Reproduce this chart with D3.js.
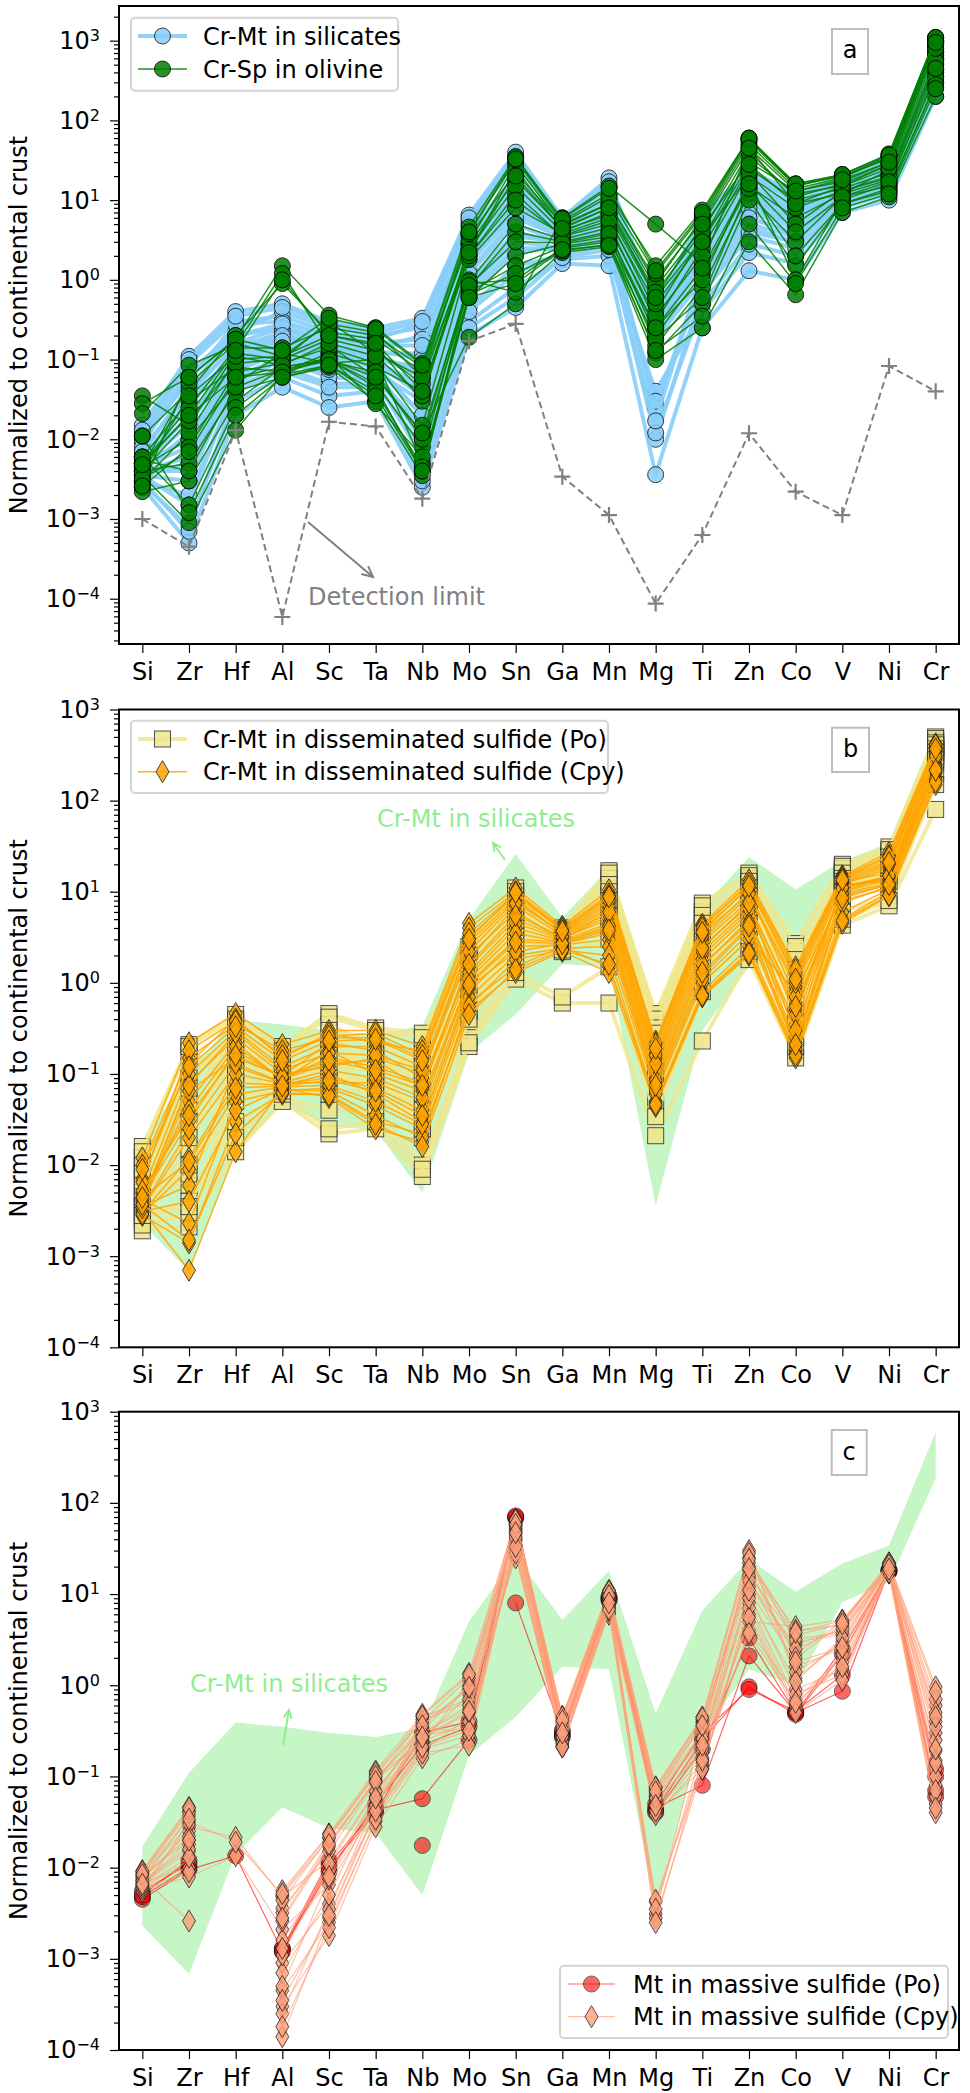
<!DOCTYPE html>
<html>
<head>
<meta charset="utf-8">
<script src="https://cdn.jsdelivr.net/npm/d3@7"></script>
<style>
  body { margin: 0; background: #fff; }
  svg { display: block; }
  text { font-family: "DejaVu Sans", sans-serif; }
</style>
</head>
<body>
<svg id="chart" width="970" height="2093"></svg>
<script>
// ---- element order along the x axis ----
const elements = ["Si","Zr","Hf","Al","Sc","Ta","Nb","Mo","Sn","Ga","Mn","Mg","Ti","Zn","Co","V","Ni","Cr"];
const majorTicks = [1e-4, 1e-3, 1e-2, 1e-1, 1e0, 1e1, 1e2, 1e3];
const majorExponents = ["\u22124","\u22123","\u22122","\u22121","0","1","2","3"];

// LA-ICP-MS detection limit, normalized to continental crust
const detectionLimit = [0.001,0.00045,0.013,0.000059,0.0166,0.0145,0.0018,0.17,0.28,0.0034,0.00112,0.000087,0.00063,0.0119,0.0022,0.00112,0.083,0.04];

// Range (max / min) of Cr-Mt in silicates, used as the background band in b and c
const silicateHigh = [0.017,0.11,0.39,0.35,0.30,0.27,0.34,5.0,26,5.2,18,0.49,6.6,24,10.6,21.7,34,600];
const silicateLow  = [0.0023,0.00068,0.014,0.046,0.027,0.024,0.005,0.17,0.45,1.6,1.5,0.0036,0.3,1.5,1.0,8.2,13.6,186];

// (a) Cr-Mt in silicates
const crMtSilicates = [
  [0.012,0.09,0.3,0.35,0.22,0.18,0.28,5.5,30,5.0,15,0.35,5.0,20,10,17,30,900],
  [0.009,0.06,0.2,0.25,0.18,0.14,0.2,4.0,20,4.5,11,0.3,4.0,15,8,15,26,750],
  [0.007,0.04,0.15,0.2,0.14,0.12,0.12,3.0,14,4.0,9,0.28,3.2,12,7,14,24,650],
  [0.006,0.03,0.12,0.18,0.12,0.1,0.08,2.2,10,3.6,7,0.25,2.6,10,6,13,22,600],
  [0.005,0.02,0.1,0.15,0.1,0.09,0.05,1.6,7,3.2,6,0.22,2.0,8,5,12,20,520],
  [0.004,0.012,0.08,0.12,0.08,0.07,0.03,1.0,4,2.8,4.5,0.2,1.5,6,4,11,18,450],
  [0.0035,0.005,0.06,0.1,0.07,0.06,0.015,0.7,2.5,2.4,3.5,0.18,1.0,4.5,3,10,16,400],
  [0.003,0.002,0.045,0.08,0.05,0.05,0.008,0.45,1.5,2.0,2.8,0.01,0.7,3.5,2.5,9,14,330],
  [0.0028,0.0008,0.03,0.06,0.035,0.04,0.004,0.3,0.8,1.8,2.0,0.04,0.4,2.2,1.6,8,12,260],
  [0.0025,0.0005,0.02,0.045,0.025,0.03,0.0025,0.2,0.45,1.6,1.5,0.0036,0.25,1.3,1.0,7,10,200],
  [0.015,0.11,0.4,0.5,0.3,0.25,0.33,6.5,40,6.0,19,0.45,6.5,24,12,20,35,1000],
  [0.011,0.07,0.22,0.4,0.25,0.2,0.25,5.0,28,5.5,14,0.4,5.5,19,10,18,32,950],
  [0.01,0.055,0.28,0.3,0.2,0.16,0.18,3.5,18,5.0,12,0.32,4.5,16,9,16,28,800],
  [0.008,0.035,0.16,0.25,0.16,0.13,0.1,2.8,12,4.2,10,0.3,3.8,13,7.5,15,25,700],
  [0.006,0.025,0.14,0.22,0.15,0.11,0.07,2.0,9,3.8,8,0.26,3.0,11,6.5,14,23,620],
  [0.005,0.015,0.11,0.19,0.13,0.1,0.04,1.3,6,3.4,6.5,0.23,2.3,9,5.5,13,21,560],
  [0.0045,0.008,0.09,0.16,0.11,0.085,0.02,0.9,3.5,3.0,5,0.2,1.7,7,4.5,12,19,480],
  [0.004,0.004,0.07,0.13,0.09,0.07,0.012,0.6,2.2,2.6,4,0.025,1.2,5,3.5,11,17,420],
  [0.0035,0.0015,0.05,0.1,0.06,0.055,0.006,0.4,1.2,2.2,3.2,0.03,0.8,4,3.0,10,15,360],
  [0.003,0.0007,0.04,0.07,0.045,0.045,0.003,0.25,0.6,1.9,2.4,0.012,0.5,2.8,2.0,9,13,300],
  [0.013,0.1,0.35,0.45,0.28,0.22,0.3,6.0,35,5.8,17,0.42,6.0,22,11,19,33,980],
  [0.007,0.045,0.2,0.28,0.2,0.15,0.15,3.8,16,4.6,10,0.3,4.2,14,8,16,27,720],
  [0.006,0.018,0.13,0.2,0.14,0.11,0.06,2.5,11,3.9,8.5,0.27,3.4,12,7,14,24,660],
  [0.005,0.01,0.1,0.17,0.12,0.09,0.035,1.8,8,3.3,7,0.24,2.8,10,6,13,21,580],
  [0.004,0.006,0.08,0.14,0.1,0.08,0.02,1.2,5,2.9,5.5,0.2,2.0,8,5,12,19,500],
  [0.0035,0.003,0.06,0.11,0.075,0.065,0.01,0.8,3,2.5,4.2,0.017,1.3,6,3.8,11,17,430]
];

// (a) Cr-Sp in olivine
const crSpOlivine = [
  [0.035,0.015,0.12,0.1,0.3,0.12,0.06,2.2,25,4.2,6.5,0.6,3.2,35,12,15,28,1000],
  [0.028,0.06,0.18,1.5,0.36,0.25,0.09,4.6,35,5.5,12,1.5,7.5,60,15,21,38,1100],
  [0.021,0.085,0.15,1.2,0.15,0.06,0.012,0.19,0.5,6.0,15,5.0,1.6,45,9,12,24,850],
  [0.011,0.04,0.2,0.9,0.22,0.18,0.07,3.5,22,5.0,9,1.0,5.5,50,14,19,35,950],
  [0.006,0.03,0.08,0.07,0.12,0.08,0.04,2.0,12,3.5,5,0.3,2.5,25,10,14,22,700],
  [0.005,0.02,0.06,0.08,0.1,0.05,0.008,0.8,4,3.0,4,0.2,1.2,15,6,12,18,500],
  [0.0045,0.01,0.05,0.12,0.09,0.1,0.005,0.6,2,2.8,3.5,0.15,0.8,12,3,11,15,400],
  [0.004,0.005,0.04,0.06,0.08,0.03,0.0035,0.9,1.0,2.5,3,0.12,0.5,10,1.5,9,13,300],
  [0.0035,0.0009,0.013,0.065,0.11,0.028,0.006,1.0,0.7,2.2,2.6,0.1,0.25,3,0.65,7,11,200],
  [0.003,0.012,0.1,0.11,0.2,0.15,0.03,2.8,18,4.5,8,0.8,4.5,30,13,17,30,1050],
  [0.0025,0.008,0.07,0.09,0.14,0.09,0.015,1.8,8,3.8,6,0.4,3.5,20,8,13,20,600],
  [0.0022,0.003,0.03,0.08,0.1,0.045,0.004,0.7,1.5,2.6,3.2,0.25,1.0,18,1.0,10,16,350],
  [0.005,0.025,0.14,0.14,0.25,0.2,0.08,3.0,28,4.8,9,0.9,6,55,15,20,33,1000],
  [0.004,0.017,0.09,0.1,0.18,0.13,0.05,2.4,15,4.0,7,0.7,4,40,11,16,28,900],
  [0.0055,0.004,0.045,0.075,0.095,0.07,0.01,0.95,5,3.2,4.5,0.35,2,22,5,13,19,550],
  [0.006,0.0015,0.025,0.065,0.085,0.04,0.0045,0.65,1.2,2.3,2.8,0.18,0.6,14,2,9,14,280],
  [0.0045,0.05,0.16,0.11,0.28,0.22,0.06,3.8,32,5.2,11,1.2,6.5,58,16,20,36,1080],
  [0.0038,0.035,0.11,0.085,0.16,0.11,0.035,2.0,10,3.6,5.5,0.5,3,28,9,15,25,800],
  [0.0032,0.007,0.06,0.07,0.1,0.06,0.012,0.85,3,2.9,3.8,0.25,1.4,16,4,11,17,450],
  [0.011,0.0012,0.02,0.06,0.085,0.035,0.004,0.6,0.9,2.4,2.7,0.13,0.35,5,0.9,8,12,250],
  [0.0026,0.06,0.18,0.13,0.33,0.24,0.085,4.0,33,5.8,14,1.3,7,60,16,21,37,1100],
  [0.0048,0.02,0.13,1.0,0.2,0.16,0.04,2.2,20,4.4,8,0.6,5,45,13,18,30,950]
];

// (b) Cr-Mt in disseminated sulfide (Po)
const dissPo = [
  [0.016,0.21,0.45,0.2,0.46,0.32,0.28,2.5,11,4.0,17,0.46,7.5,16,2.7,20,31,500],
  [0.012,0.05,0.3,0.15,0.25,0.1,0.2,1.8,9,3.5,14,0.35,6,12,0.4,17,25,450],
  [0.009,0.12,0.22,0.12,0.35,0.2,0.05,1.4,7,3.2,11,0.3,5,10,1.6,15,22,400],
  [0.007,0.006,0.16,0.1,0.22,0.25,0.1,1.0,5.5,3.0,9,0.25,4,8,1.2,8,20,380],
  [0.005,0.04,0.12,0.09,0.18,0.12,0.15,0.8,4.5,2.8,7,0.2,3,14,0.9,12,12,350],
  [0.004,0.18,0.09,0.08,0.14,0.05,0.03,0.6,3.5,2.6,6,0.16,2.5,6,0.7,11,16,320],
  [0.0035,0.015,0.35,0.07,0.1,0.08,0.035,0.45,3,2.5,5,0.12,2,5,2.2,10,14,300],
  [0.003,0.008,0.05,0.06,0.07,0.18,0.02,0.35,2.5,2.4,4,0.09,1.5,4,0.35,18,28,260],
  [0.0025,0.004,0.03,0.055,0.04,0.04,0.01,0.25,1.8,2.2,3,0.05,1.0,3,0.25,6,9,200],
  [0.0019,0.0021,0.014,0.05,0.022,0.025,0.0075,0.2,1.1,0.6,0.6,0.021,0.23,1.8,0.15,4.3,7,80],
  [0.0022,0.003,0.02,0.06,0.025,0.03,0.009,0.22,1.3,0.7,1.5,0.034,0.8,2.2,0.2,5,8,150],
  [0.014,0.2,0.4,0.18,0.42,0.3,0.25,2.2,10,3.8,16,0.4,7,15,2.5,19,29,480],
  [0.01,0.09,0.28,0.14,0.3,0.22,0.18,2.0,8,3.6,12,0.32,5.5,13,1.8,16,24,430],
  [0.008,0.03,0.2,0.11,0.2,0.15,0.12,1.2,6.5,3.3,10,0.28,4.5,11,1.4,14,21,410],
  [0.006,0.07,0.14,0.1,0.16,0.13,0.09,0.9,5,2.9,8,0.22,3.5,9,1.0,13,18,370],
  [0.0045,0.02,0.11,0.085,0.12,0.11,0.06,0.7,4,2.7,6.5,0.18,2.8,7.5,0.8,12,17,340],
  [0.0035,0.01,0.08,0.075,0.09,0.09,0.04,0.5,3.2,2.5,5.5,0.14,2.2,6,0.6,10,15,310],
  [0.0028,0.0035,0.06,0.065,0.06,0.07,0.025,0.4,2.7,2.3,4.5,0.1,1.7,4.5,0.4,9,13,280]
];

// (b) Cr-Mt in disseminated sulfide (Cpy)
const dissCpy = [
  [0.012,0.22,0.46,0.21,0.3,0.3,0.2,4.5,11,4.2,10.5,0.23,4.4,13.5,1.5,15,27,420],
  [0.004,0.08,0.25,0.1,0.12,0.15,0.1,2.0,6,3.0,6,0.12,2.5,7,0.6,10,15,300],
  [0.0035,0.006,0.12,0.08,0.08,0.08,0.05,1.0,3,2.8,4,0.08,1.5,5,0.35,12,13,250],
  [0.0032,0.0007,0.014,0.07,0.055,0.025,0.018,0.6,1.5,2.5,1.5,0.05,0.8,2.5,0.18,5,10,180],
  [0.01,0.15,0.35,0.18,0.25,0.25,0.15,3.2,9,3.8,8.5,0.2,3.8,11,1.2,14,22,380],
  [0.0028,0.0014,0.03,0.06,0.06,0.03,0.022,0.5,1.3,2.2,1.3,0.044,0.7,2,0.15,4.5,9,150],
  [0.0045,0.03,0.18,0.09,0.15,0.12,0.08,1.5,5,3.1,5,0.1,2,6,0.5,11,14,280],
  [0.005,0.1,0.3,0.12,0.2,0.2,0.12,2.5,8,3.5,7.5,0.15,3,9,0.9,12,18,350],
  [0.003,0.012,0.08,0.075,0.1,0.06,0.03,0.8,2.5,2.6,3,0.07,1.2,4,0.2,8,11,200],
  [0.0038,0.05,0.22,0.085,0.18,0.1,0.065,1.8,7,3.3,6.5,0.14,2.8,8,0.25,13,16,320],
  [0.0042,0.0023,0.05,0.065,0.07,0.045,0.025,0.7,2,2.4,2.5,0.06,1,3,0.8,9,12,220],
  [0.007,0.13,0.4,0.15,0.28,0.22,0.18,4.0,10,4.0,9.5,0.22,4.2,12,1.3,14.5,25,400],
  [0.0033,0.02,0.1,0.078,0.09,0.07,0.04,1.2,4,2.9,4.5,0.09,1.8,5.5,0.22,10,13.5,240],
  [0.0036,0.065,0.15,0.095,0.22,0.18,0.09,2.8,8.5,3.4,7,0.17,3.2,10,0.7,12.5,19,360],
  [0.0031,0.004,0.04,0.068,0.065,0.035,0.02,0.55,1.8,2.3,2,0.048,0.75,2.2,0.17,6,10.5,170],
  [0.0048,0.04,0.2,0.088,0.13,0.14,0.07,1.3,4.5,3.0,5.5,0.11,2.2,6.5,0.45,11.5,14.5,290],
  [0.0029,0.009,0.06,0.072,0.075,0.05,0.028,0.9,2.2,2.7,3.5,0.065,1.1,3.5,0.19,7.5,11.5,210],
  [0.0065,0.18,0.38,0.16,0.26,0.28,0.16,3.5,9.5,3.9,9,0.21,4,12.5,1.4,14,24,410],
  [0.0034,0.025,0.13,0.08,0.11,0.09,0.055,1.1,3.5,2.8,4.2,0.085,1.6,4.5,0.3,9.5,12.5,230],
  [0.004,0.075,0.28,0.11,0.17,0.16,0.11,2.2,7.5,3.6,8,0.16,3.5,9.5,1.0,13,20,340],
  [0.0037,0.0015,0.022,0.062,0.058,0.028,0.016,0.45,1.4,2.3,1.6,0.046,0.72,2.1,0.16,4.8,9.2,160],
  [0.0052,0.035,0.16,0.092,0.14,0.11,0.075,1.6,5.5,3.2,6,0.13,2.4,7.5,0.55,11,15,310],
  [0.0044,0.011,0.07,0.074,0.085,0.065,0.035,0.95,2.8,2.7,3.8,0.075,1.3,4.2,0.21,8.5,12,215],
  [0.009,0.12,0.33,0.14,0.23,0.24,0.14,3.0,9.8,3.7,8.8,0.19,3.6,11.5,1.1,13.5,21,370]
];

// (c) Mt in massive sulfide (Po)
const massPo = [
  [0.0045,0.0095,0.0135,0.0012,0.011,0.043,0.057,0.25,70,0.28,9,0.045,0.08,2.1,0.5,0.86,18,0.07],
  [0.0048,0.010,null,0.0013,0.012,null,0.0175,null,8,0.3,8.5,0.042,0.25,0.96,0.48,2.2,17.5,0.1],
  [0.0055,0.011,null,0.0013,0.009,0.05,0.22,0.35,68,0.32,9.5,0.05,0.3,0.9,0.52,1.3,18.5,0.06],
  [0.005,0.012,null,0.0012,0.01,0.04,0.3,0.4,72,0.27,8.8,0.04,0.2,3.3,0.5,2.5,18,0.12]
];

// (c) Mt in massive sulfide (Cpy)
const massCpy = [
  [0.0093,0.046,null,0.0056,0.0235,0.115,0.48,1.35,66,0.46,11,0.077,0.45,30,1.2,3.0,22,0.96],
  [0.0062,0.028,0.0215,0.0048,0.012,0.07,0.3,0.55,58,0.3,8.5,0.05,0.2,5,4.4,5.2,19,0.19],
  [0.0071,0.037,null,0.0032,0.019,0.09,0.25,0.8,48,0.25,7.5,0.0042,0.15,12,2.8,4.1,20,0.12],
  [0.0058,0.0079,0.0135,0.0021,0.0065,0.045,0.35,0.3,35,0.21,6.2,0.04,0.12,8,0.7,2.0,18,0.08],
  [0.0083,0.02,null,0.0009,0.004,0.038,0.19,0.45,62,0.4,10,0.065,0.3,20,3.5,4.8,21,0.6],
  [0.0067,0.015,null,0.00045,0.0025,0.032,0.42,0.65,25,0.32,9,0.0031,0.35,15,1.6,2.5,17,0.05],
  [0.0055,0.032,0.019,0.005,0.021,0.105,0.22,1.1,52,0.35,6,0.055,0.18,25,3.0,3.6,19.5,0.3],
  [0.0077,0.0026,null,0.0003,0.0018,0.028,0.16,0.25,40,0.28,8,0.045,0.25,10,0.9,1.5,18.5,0.15],
  [0.0089,0.042,null,0.0016,0.009,0.06,0.38,0.9,56,0.38,9.5,0.07,0.4,18,2.2,5.0,20.5,0.4],
  [0.006,0.012,null,0.00025,0.0035,0.05,0.28,0.35,30,0.23,7,0.0044,0.13,6,0.55,1.8,17.5,0.06],
  [0.0074,0.025,null,0.0036,0.015,0.085,0.45,0.7,60,0.43,10.5,0.06,0.28,22,4.0,4.5,21.5,0.25],
  [0.0065,0.018,null,0.00014,0.0028,0.04,0.2,0.28,45,0.26,7.8,0.038,0.14,4,0.8,1.3,18,0.1],
  [0.0081,0.03,null,0.0026,0.017,0.095,0.32,1.0,64,0.44,9.8,0.074,0.42,28,1.4,2.8,21,0.7],
  [0.0069,0.01,null,0.0007,0.005,0.055,0.24,0.4,28,0.22,6.5,0.0028,0.12,7,0.6,2.2,17,0.04],
  [0.0086,0.04,null,0.0044,0.0215,0.11,0.4,1.2,50,0.36,8.8,0.062,0.38,16,3.2,3.8,20,0.5],
  [0.0059,0.009,null,0.00018,0.0022,0.034,0.18,0.22,38,0.24,7.2,0.042,0.16,5.5,0.5,1.14,17.5,0.07],
  [0.0078,0.022,null,0.0011,0.011,0.068,0.3,0.6,54,0.33,9,0.058,0.26,14,2.5,4.2,19.5,0.35],
  [0.0072,0.016,null,0.0005,0.0075,0.048,0.26,0.5,42,0.27,8.2,0.0035,0.2,9,1.1,3.3,18.5,0.14],
  [0.0091,0.045,null,0.0052,0.023,0.1,0.46,1.3,65,0.45,10.8,0.076,0.44,24,3.8,5.1,22,0.85],
  [0.0063,0.013,null,0.00035,0.003,0.042,0.21,0.32,33,0.21,6.8,0.0025,0.15,3.7,0.65,1.6,17.2,0.045],
  [0.0084,0.034,null,0.0028,0.018,0.088,0.36,0.95,58,0.41,9.6,0.068,0.36,19,2.0,4.7,20.8,0.45],
  [0.0066,0.02,null,0.0013,0.008,0.058,0.27,0.52,47,0.3,8,0.048,0.22,11,1.8,2.6,18.8,0.2]
];

// ---- drawing ----
const svg = d3.select("#chart");
const FONT = 24;
const x = d3.scaleLinear().domain([-0.5, 17.5]).range([119, 959]);

const panels = [
  { key: "a", top: 6,      bottom: 644,    lo: Math.pow(10, -4.568), hi: Math.pow(10, 3.435) },
  { key: "b", top: 709.5,  bottom: 1347.3, lo: 1e-4, hi: 1e3 },
  { key: "c", top: 1411.7, bottom: 2050,   lo: 1e-4, hi: 1e3 }
];
panels.forEach(p => {
  p.y = d3.scaleLog().domain([p.lo, p.hi]).range([p.bottom, p.top]);
});

// marker shapes
const shapes = {
  circle: (g, cx, cy) => g.append("circle").attr("cx", cx).attr("cy", cy).attr("r", 8),
  square: (g, cx, cy) => g.append("rect").attr("x", cx - 8).attr("y", cy - 8).attr("width", 16).attr("height", 16),
  thinDiamond: (g, cx, cy) => g.append("path").attr("d", `M${cx},${cy - 11}L${cx + 6.5},${cy}L${cx},${cy + 11}L${cx - 6.5},${cy}Z`)
};

const styles = {
  silicate: { line: "#87CEFA", lw: 4, lineOpacity: 0.9, fill: "#87CEFA", shape: "circle", edge: "#1a1a1a", markerOpacity: 0.85 },
  olivine:  { line: "#008000", lw: 1.5, lineOpacity: 0.85, fill: "#008000", shape: "circle", edge: "#000", markerOpacity: 0.85 },
  dissPo:   { line: "#F0E68C", lw: 4, lineOpacity: 0.8, fill: "#F0E68C", shape: "square", edge: "#333", markerOpacity: 0.85 },
  dissCpy:  { line: "#FFA500", lw: 1.5, lineOpacity: 0.85, fill: "#FFA500", shape: "thinDiamond", edge: "#222", markerOpacity: 0.85 },
  massPo:   { line: "#FF0000", lw: 1.2, lineOpacity: 0.6, fill: "#FF0000", shape: "circle", edge: "#000", markerOpacity: 0.6 },
  massCpy:  { line: "#FFA07A", lw: 1.2, lineOpacity: 0.65, fill: "#FFA07A", shape: "thinDiamond", edge: "#222", markerOpacity: 0.8 }
};

function drawProfiles(g, y, rows, st) {
  const line = d3.line()
    .defined(d => d != null)
    .x((d, i) => x(i))
    .y(d => y(d));
  rows.forEach(row => {
    g.append("path")
      .attr("d", line(row))
      .attr("fill", "none")
      .attr("stroke", st.line)
      .attr("stroke-width", st.lw)
      .attr("stroke-linejoin", "round")
      .attr("opacity", st.lineOpacity);
    const mg = g.append("g").attr("opacity", st.markerOpacity);
    row.forEach((v, i) => {
      if (v == null) return;
      shapes[st.shape](mg, x(i), y(v))
        .attr("fill", st.fill)
        .attr("stroke", st.edge)
        .attr("stroke-width", 1);
    });
  });
}

function drawFrame(p) {
  const g = svg.append("g");
  const y = p.y;
  // minor ticks on the log axis
  const minors = [];
  for (let k = -5; k <= 3; k++) {
    for (let m = 2; m <= 9; m++) {
      const v = m * Math.pow(10, k);
      if (v > p.lo && v < p.hi) minors.push(v);
    }
  }
  const yMinor = g.append("g").attr("transform", "translate(119,0)")
    .call(d3.axisLeft(y).tickValues(minors).tickSize(5).tickFormat(""));
  const yMajor = g.append("g").attr("transform", "translate(119,0)")
    .call(d3.axisLeft(y).tickValues(majorTicks).tickSize(9).tickFormat(""));
  [yMinor, yMajor].forEach(a => {
    a.select(".domain").remove();
    a.selectAll("line").attr("stroke", "#000").attr("stroke-width", 1.2);
  });
  majorTicks.forEach((v, i) => {
    const t = g.append("text")
      .attr("x", 100).attr("y", y(v))
      .attr("text-anchor", "end")
      .attr("font-size", FONT)
      .attr("fill", "#000");
    t.append("tspan").attr("dy", "0.35em").text("10");
    t.append("tspan").attr("dy", -8).attr("font-size", 16).text(majorExponents[i]);
  });
  // x axis with element symbols
  const xa = g.append("g").attr("transform", `translate(0,${p.bottom})`)
    .call(d3.axisBottom(x).tickValues(d3.range(elements.length)).tickSize(9).tickPadding(10)
      .tickFormat(i => elements[i]));
  xa.select(".domain").remove();
  xa.selectAll("line").attr("stroke", "#000").attr("stroke-width", 1.2);
  xa.selectAll("text").attr("font-size", FONT).attr("fill", "#000")
    .attr("font-family", "DejaVu Sans, sans-serif");
  // axis title
  g.append("text")
    .attr("transform", `translate(27,${(p.top + p.bottom) / 2}) rotate(-90)`)
    .attr("text-anchor", "middle")
    .attr("font-size", FONT)
    .text("Normalized to continental crust");
  // frame
  g.append("rect")
    .attr("x", 119).attr("y", p.top)
    .attr("width", 840).attr("height", p.bottom - p.top)
    .attr("fill", "none").attr("stroke", "#000").attr("stroke-width", 2);
}

function plotArea(p) {
  const id = "clip-" + p.key;
  svg.append("clipPath").attr("id", id).append("rect")
    .attr("x", 119).attr("y", p.top).attr("width", 840).attr("height", p.bottom - p.top);
  return svg.append("g").attr("clip-path", `url(#${id})`);
}

function silicateBand(g, y) {
  const area = d3.area()
    .x((d, i) => x(i))
    .y0((d, i) => y(silicateLow[i]))
    .y1(d => y(d));
  g.append("path").attr("d", area(silicateHigh)).attr("fill", "#C6F5C6");
}

function panelTag(label, bx, by, bw, bh, baseline) {
  svg.append("rect").attr("x", bx).attr("y", by).attr("width", bw).attr("height", bh)
    .attr("fill", "#fff").attr("stroke", "#bdbdbd").attr("stroke-width", 2);
  svg.append("text").attr("x", bx + bw / 2).attr("y", baseline)
    .attr("text-anchor", "middle").attr("font-size", FONT).text(label);
}

function legend(bx, by, bw, bh, lineX0, lineX1, textX, rows) {
  svg.append("rect").attr("x", bx).attr("y", by).attr("width", bw).attr("height", bh)
    .attr("rx", 4).attr("fill", "#fff").attr("fill-opacity", 0.8)
    .attr("stroke", "#d4d4d4").attr("stroke-width", 2);
  rows.forEach(r => {
    const st = r.style;
    svg.append("line").attr("x1", lineX0).attr("x2", lineX1).attr("y1", r.y).attr("y2", r.y)
      .attr("stroke", st.line).attr("stroke-width", st.lw).attr("opacity", st.lineOpacity);
    const mg = svg.append("g").attr("opacity", st.markerOpacity);
    shapes[st.shape](mg, (lineX0 + lineX1) / 2, r.y)
      .attr("fill", st.fill).attr("stroke", st.edge).attr("stroke-width", 1);
    svg.append("text").attr("x", textX).attr("y", r.y + 8.7)
      .attr("font-size", FONT).text(r.label);
  });
}

function arrow(x1, y1, x2, y2, color, width, head) {
  svg.append("line").attr("x1", x1).attr("y1", y1).attr("x2", x2).attr("y2", y2)
    .attr("stroke", color).attr("stroke-width", width);
  const ang = Math.atan2(y2 - y1, x2 - x1);
  const a1 = ang + Math.PI - 0.45, a2 = ang + Math.PI + 0.45;
  svg.append("path")
    .attr("d", `M${x2 + head * Math.cos(a1)},${y2 + head * Math.sin(a1)}L${x2},${y2}L${x2 + head * Math.cos(a2)},${y2 + head * Math.sin(a2)}`)
    .attr("fill", "none").attr("stroke", color).attr("stroke-width", width);
}

// ---- panel a ----
{
  const p = panels[0];
  const g = plotArea(p);
  drawProfiles(g, p.y, crMtSilicates, styles.silicate);
  drawProfiles(g, p.y, crSpOlivine, styles.olivine);
  const dl = d3.line().x((d, i) => x(i)).y(d => p.y(d));
  g.append("path").attr("d", dl(detectionLimit)).attr("fill", "none")
    .attr("stroke", "#808080").attr("stroke-width", 2).attr("stroke-dasharray", "7,4");
  detectionLimit.forEach((v, i) => {
    const cx = x(i), cy = p.y(v);
    g.append("path").attr("d", `M${cx - 8},${cy}H${cx + 8}M${cx},${cy - 8}V${cy + 8}`)
      .attr("stroke", "#808080").attr("stroke-width", 2.2);
  });
  drawFrame(p);
  svg.append("text").attr("x", 308).attr("y", 605).attr("font-size", FONT)
    .attr("fill", "#808080").text("Detection limit");
  arrow(308, 522, 373, 577, "#808080", 2, 12);
  legend(131, 17.7, 267, 73, 138, 187, 203, [
    { y: 36, label: "Cr-Mt in silicates", style: styles.silicate },
    { y: 69, label: "Cr-Sp in olivine", style: styles.olivine }
  ]);
  panelTag("a", 832, 29, 36, 45, 58);
}

// ---- panel b ----
{
  const p = panels[1];
  const g = plotArea(p);
  silicateBand(g, p.y);
  drawProfiles(g, p.y, dissPo, styles.dissPo);
  drawProfiles(g, p.y, dissCpy, styles.dissCpy);
  drawFrame(p);
  svg.append("text").attr("x", 377).attr("y", 827).attr("font-size", FONT)
    .attr("fill", "#90EE90").text("Cr-Mt in silicates");
  arrow(505, 860, 493, 843, "#90EE90", 2, 9);
  legend(131, 720.7, 477, 72.3, 138, 187, 203, [
    { y: 739, label: "Cr-Mt in disseminated sulfide (Po)", style: styles.dissPo },
    { y: 771.7, label: "Cr-Mt in disseminated sulfide (Cpy)", style: styles.dissCpy }
  ]);
  panelTag("b", 832, 727.7, 37, 44.3, 756.7);
}

// ---- panel c ----
{
  const p = panels[2];
  const g = plotArea(p);
  silicateBand(g, p.y);
  drawProfiles(g, p.y, massPo, styles.massPo);
  drawProfiles(g, p.y, massCpy, styles.massCpy);
  drawFrame(p);
  svg.append("text").attr("x", 190).attr("y", 1692).attr("font-size", FONT)
    .attr("fill", "#90EE90").text("Cr-Mt in silicates");
  arrow(283, 1745, 289, 1710, "#90EE90", 2, 9);
  legend(560, 1965.7, 388, 72.3, 568, 615, 633, [
    { y: 1984, label: "Mt in massive sulfide (Po)", style: styles.massPo },
    { y: 2016.7, label: "Mt in massive sulfide (Cpy)", style: styles.massCpy }
  ]);
  panelTag("c", 831.7, 1430, 35, 45, 1460);
}
</script>
</body>
</html>
